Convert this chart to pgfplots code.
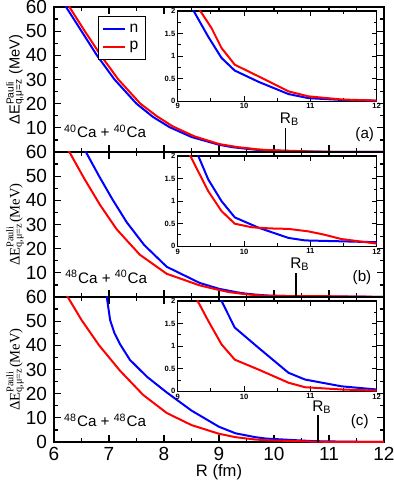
\documentclass[border=0pt]{standalone}
\usepackage{fontspec}
\setmainfont{Liberation Sans}
\newfontfamily\serif{Liberation Serif}
\usepackage{pgfplots}
\pgfplotsset{compat=1.18}
\usepackage{pgfplotstable}

% 40Ca + 40Ca
\pgfplotstableread{
R E
6.10 64.5
6.22 60
6.50 50
6.78 40
7.10 30
7.50 20
7.80 14.5
8.10 10.3
8.50 6.2
9.00 3.0
9.24 2.0
9.46 1.43
9.66 0.96
9.86 0.68
10.22 0.43
10.67 0.16
10.97 0.07
11.47 0.03
12.00 0.015
}\dataAn
\pgfplotstableread{
R E
6.16 64.5
6.28 60
6.56 50
6.85 40
7.17 30
7.57 20
7.87 14.8
8.16 10.6
8.55 6.5
9.00 3.3
9.34 2.0
9.51 1.62
9.66 1.18
9.86 0.81
10.22 0.55
10.67 0.22
10.97 0.11
11.47 0.04
12.00 0.015
}\dataAp
% 48Ca + 40Ca
\pgfplotstableread{
R E
6.48 64
6.58 60
6.82 50
7.06 40.5
7.32 31
7.64 21.5
8.05 12.5
8.65 5.8
9.00 3.4
9.31 2.0
9.46 1.48
9.66 1.00
9.86 0.64
10.22 0.41
10.67 0.185
10.92 0.13
11.47 0.11
12.00 0.09
}\dataBn
\pgfplotstableread{
R E
6.18 63
6.28 60
6.55 49
6.84 38
7.14 28
7.56 17.5
8.05 9.6
8.65 4.8
9.00 2.9
9.19 2.0
9.46 1.22
9.66 0.78
9.86 0.50
10.12 0.42
10.40 0.395
10.67 0.385
10.97 0.33
11.20 0.26
11.47 0.16
12.00 0.06
}\dataBp
% 48Ca + 48Ca
\pgfplotstableread{
R E
6.92 65
6.96 60
7.02 50.5
7.10 45
7.20 40.5
7.38 34
7.69 27
8.05 20.5
8.50 13
9.00 6.3
9.30 3.6
9.66 2.0
9.86 1.41
10.22 0.96
10.67 0.41
10.92 0.26
11.47 0.11
12.00 0.04
}\dataCn
\pgfplotstableread{
R E
6.15 64
6.25 60
6.50 50.5
6.82 40
7.20 29.5
7.62 19.5
8.05 12
8.50 7.0
9.00 3.4
9.30 2.0
9.46 1.56
9.66 1.04
9.86 0.70
10.22 0.48
10.67 0.19
10.92 0.09
11.47 0.04
12.00 0.015
}\dataCp

\pgfplotsset{
  mainpanel/.style={
    scale only axis, width=165pt, height=72.5pt,
    xmin=6, xmax=12, ymin=0, ymax=60,
    xtick={6,...,12}, ytick={0,10,...,60},
    minor x tick num=1, minor y tick num=1,
    tick align=inside, major tick length=3.5pt, minor tick length=2pt,
    axis line style={line width=0.75pt},
    every tick/.style={black, line width=0.6pt},
    tick label style={font=\fontsize{9.5}{10}\selectfont},
    /pgf/number format/assume math mode=true,
    axis background/.style={fill=white},
    ylabel style={at={(axis description cs:-0.118,0.5)}, anchor=center,
      font=\fontsize{7.3}{8}\selectfont},
  },
  inset/.style={
    scale only axis, width=99.5pt, height=45.2pt,
    xmin=9, xmax=12, ymin=0, ymax=2,
    xtick={9,10,11,12}, ytick={0,0.5,1,1.5,2},
    minor x tick num=1, minor y tick num=1,
    tick align=inside, major tick length=2.6pt, minor tick length=1.5pt,
    axis line style={line width=0.65pt},
    every tick/.style={black, line width=0.5pt},
    tick label style={font=\fontsize{3.8}{4}\selectfont\bfseries, inner sep=1pt},
    /pgf/number format/assume math mode=true,
    axis background/.style={fill=white},
  },
  nline/.style={blue, line width=1pt},
  pline/.style={red, line width=1pt},
  rb/.style={black, line width=0.9pt, forget plot},
}

\begin{document}
\begin{tikzpicture}
% ---- panel (a)
\begin{axis}[mainpanel, at={(0pt,145pt)}, anchor=south west,
  xticklabels={}, yticklabels={,10,20,30,40,50,60},
  ylabel={ΔE\rlap{\textsuperscript{Pauli}}\textsubscript{q,μ=z} (MeV)},
  legend style={at={(0.133,0.938)}, anchor=north west, draw=black,
    line width=0.7pt, font=\fontsize{7.8}{8}\selectfont,
    inner sep=1.5pt, row sep=-1pt},
  legend cell align=left,
  legend image code/.code={\draw[#1] (0pt,0pt) -- (11pt,0pt);},
]
\addplot[nline] table {\dataAn};
\addlegendentry{n}
\addplot[pline] table {\dataAp};
\addlegendentry{p}
\addplot[rb] coordinates {(10.21,0) (10.21,9.8)};
\node[anchor=south, font=\fontsize{7.7}{8}\selectfont, inner sep=1pt, xshift=2pt] at (axis cs:10.21,9.8) {R\textsubscript{B}};
\node[anchor=base, font=\fontsize{7.6}{8}\selectfont] at (axis cs:6.93,5.8) {\textsuperscript{40}Ca + \textsuperscript{40}Ca};
\node[anchor=base, font=\fontsize{7.6}{8}\selectfont] at (axis cs:11.65,5.6) {(a)};
\end{axis}
\begin{axis}[inset, at={(61.85pt,170.35pt)}, anchor=south west]
\addplot[nline] table {\dataAn};
\addplot[pline] table {\dataAp};
\end{axis}

% ---- panel (b)
\begin{axis}[mainpanel, at={(0pt,72.5pt)}, anchor=south west,
  xticklabels={}, yticklabels={,10,20,30,40,50,60},
  ylabel={\serif ΔE\rlap{\textsuperscript{Pauli}}\textsubscript{q,μ=z}(MeV)},
]
\addplot[nline] table {\dataBn};
\addplot[pline] table {\dataBp};
\addplot[rb] coordinates {(10.4,0) (10.4,9.8)};
\node[anchor=south, font=\fontsize{7.7}{8}\selectfont, inner sep=1pt, xshift=2pt] at (axis cs:10.4,9.8) {R\textsubscript{B}};
\node[anchor=base, font=\fontsize{7.6}{8}\selectfont] at (axis cs:6.95,5.7) {\textsuperscript{48}Ca + \textsuperscript{40}Ca};
\node[anchor=base, font=\fontsize{7.6}{8}\selectfont] at (axis cs:11.6,6.3) {(b)};
\end{axis}
\begin{axis}[inset, at={(61.85pt,97.85pt)}, anchor=south west]
\addplot[nline] table {\dataBn};
\addplot[pline] table {\dataBp};
\end{axis}

% ---- panel (c)
\begin{axis}[mainpanel, at={(0pt,0pt)}, anchor=south west,
  ylabel={\serif ΔE\rlap{\textsuperscript{Pauli}}\textsubscript{q,μ=z}(MeV)},
  xticklabel style={inner sep=0.5pt, yshift=-1.8pt},
  xlabel={R (fm)},
  xlabel style={at={(axis description cs:0.5,0)}, anchor=base, yshift=-17.4pt,
    inner sep=0pt, font=\fontsize{8.3}{9}\selectfont},
]
\addplot[nline] table {\dataCn};
\addplot[pline] table {\dataCp};
\addplot[rb] coordinates {(10.8,0) (10.8,11)};
\node[anchor=south, font=\fontsize{7.7}{8}\selectfont, inner sep=1pt, xshift=2pt] at (axis cs:10.8,11) {R\textsubscript{B}};
\node[anchor=base, font=\fontsize{7.6}{8}\selectfont] at (axis cs:6.93,6.3) {\textsuperscript{48}Ca + \textsuperscript{48}Ca};
\node[anchor=base, font=\fontsize{7.6}{8}\selectfont] at (axis cs:11.56,7.0) {(c)};
\end{axis}
\begin{axis}[inset, at={(61.85pt,25.35pt)}, anchor=south west]
\addplot[nline] table {\dataCn};
\addplot[pline] table {\dataCp};
\end{axis}

\pgfresetboundingbox
\path[use as bounding box] (-27pt,-19.5pt) rectangle (170pt,221pt);
\end{tikzpicture}
\end{document}
